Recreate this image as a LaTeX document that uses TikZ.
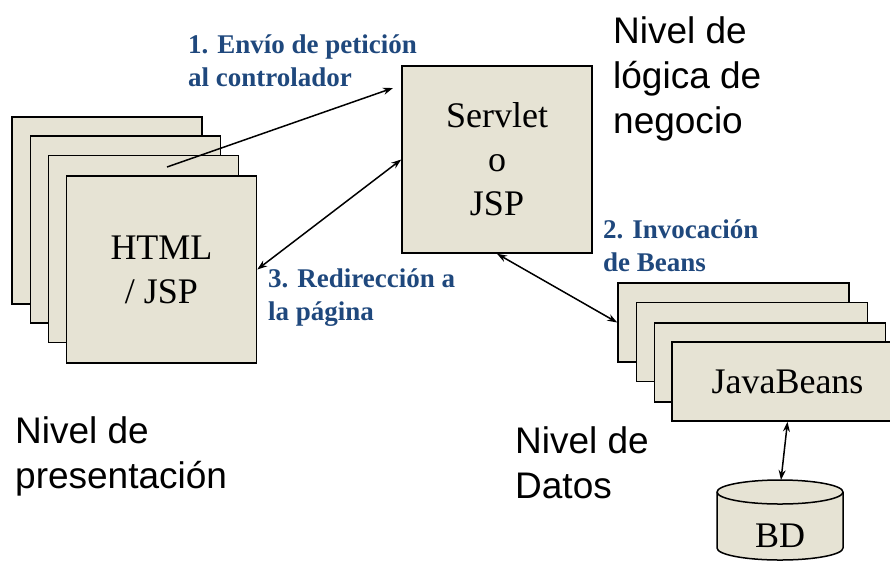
\documentclass[tikz,border=0pt]{standalone}
\usepackage{fontspec}
\setmainfont{Liberation Serif}
\newfontfamily\arialf{Liberation Sans}
\usetikzlibrary{arrows.meta}
\definecolor{boxfill}{RGB}{230,227,212}
\definecolor{lblue}{RGB}{31,72,125}
\begin{document}
\begin{tikzpicture}[x=1pt,y=1pt,
  card/.style={draw=black, line width=1.5pt, fill=boxfill, rectangle, inner sep=0pt},
  bigcard/.style={card, minimum width=190pt, minimum height=187pt},
  beancard/.style={card, minimum width=231pt, minimum height=79pt},
  boxtxt/.style={font=\fontsize{36}{44}\selectfont, align=center},
  steplbl/.style={font=\fontsize{27}{33}\selectfont\bfseries, text=lblue, anchor=base west, inner sep=0pt},
  levellbl/.style={font=\arialf\fontsize{37}{45}\selectfont, anchor=base west, inner sep=0pt},
  conn/.style={line width=1.5pt, draw=black},
  oneway/.style={conn, -{Stealth[length=10pt,width=7pt]}},
  twoway/.style={conn, {Stealth[length=10pt,width=7pt]}-{Stealth[length=10pt,width=7pt]}}
]
\fill[white] (0,0) rectangle (890,-563);
\useasboundingbox (0,0) rectangle (890,-563);
\clip (0,0) rectangle (890,-563);

% presentation stack
\node[bigcard] (L1) at (107,-210.5) {};
\node[bigcard] (L2) at (125.5,-229.5) {};
\node[bigcard] (L3) at (143.5,-249) {};
\node[bigcard, boxtxt] (L4) at (161.5,-269.5) {HTML\\/ JSP};

% controller
\node[bigcard, boxtxt] (S) at (497,-159.5) {Servlet\\o\\JSP};

% beans stack
\node[beancard] (R1) at (733.5,-322.5) {};
\node[beancard] (R2) at (752,-342) {};
\node[beancard] (R3) at (770,-362.5) {};
\node[beancard, boxtxt] (R4) at (787.5,-381.5) {JavaBeans};

% database cylinder
\draw[line width=1.5pt, fill=boxfill] (717,-492) -- (717,-548)
  arc[start angle=180, end angle=360, x radius=63, y radius=12]
  -- (843,-492)
  arc[start angle=0, end angle=180, x radius=63, y radius=12] -- cycle;
\draw[line width=1.5pt] (717,-492)
  arc[start angle=180, end angle=360, x radius=63, y radius=12];
\node[font=\fontsize{36}{44}\selectfont, anchor=base, inner sep=0pt] (bd) at (780,-547) {BD};
\coordinate (bdtop) at (781,-480);

% connectors
\coordinate (a1s) at (167,-167);
\coordinate (a1e) at (393,-88);
\draw[oneway] (a1s) -- (a1e);
\draw[twoway] (L4.east) -- (S.west);
\draw[twoway] (S.south) -- (R1.west);
\draw[twoway] (R4.south) -- (bdtop);

% step labels
\node[steplbl] (t1) at (188,-53) {\vtop{\hbox{1. Envío de petición}\hbox{al controlador}}};
\node[steplbl] (t2) at (603,-238) {\vtop{\hbox{2. Invocación}\hbox{de Beans}}};
\node[steplbl] (t3) at (268,-287) {\vtop{\hbox{3. Redirección a}\hbox{la página}}};

% level labels
\node[levellbl] (n1) at (613,-43) {\vtop{\hbox{Nivel de}\hbox{lógica de}\hbox{negocio}}};
\node[levellbl] (n2) at (15,-443) {\vtop{\hbox{Nivel de}\hbox{presentación}}};
\node[levellbl] (n3) at (515,-453) {\vtop{\hbox{Nivel de}\hbox{Datos}}};
\end{tikzpicture}
\end{document}
